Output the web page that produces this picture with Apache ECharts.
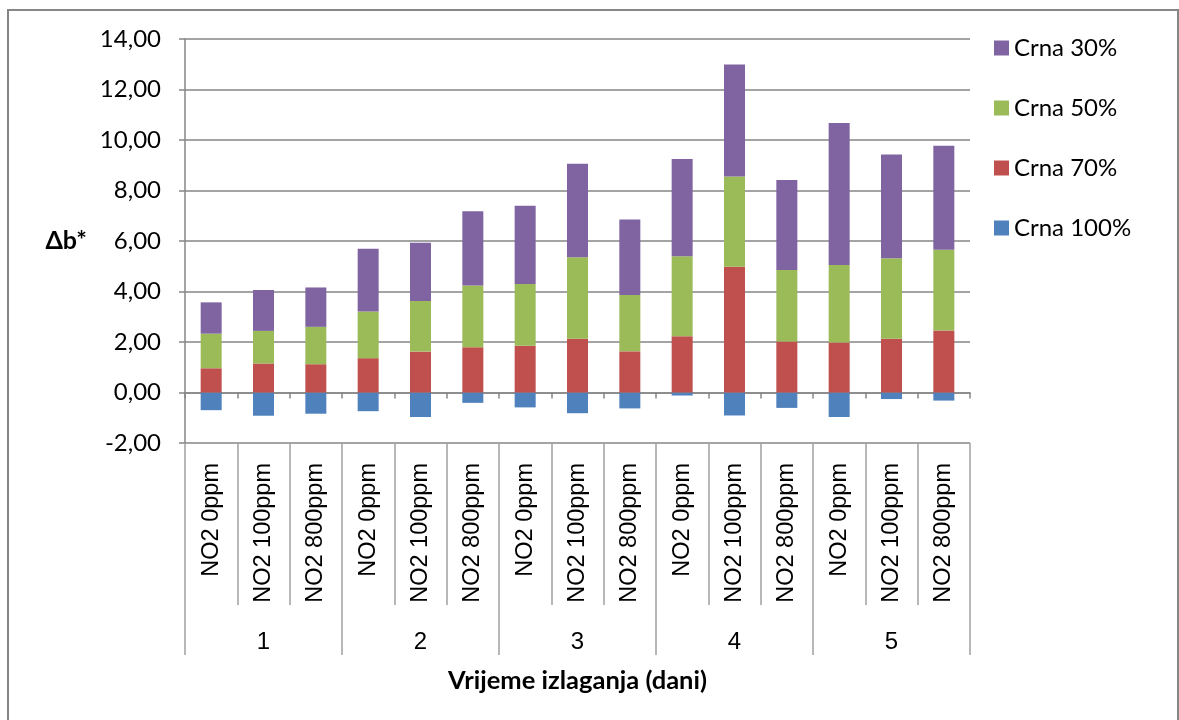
<!DOCTYPE html>
<html>
<head>
<meta charset="utf-8">
<script src="https://cdn.jsdelivr.net/npm/echarts@6/dist/echarts.min.js"></script>
<style>
html,body{margin:0;padding:0;background:#fff;}
#chart{width:1179px;height:720px;}
</style>
</head>
<body>
<div id="chart"></div>
<script>
var categories = ['NO2 0ppm','NO2 100ppm','NO2 800ppm','NO2 0ppm','NO2 100ppm','NO2 800ppm','NO2 0ppm','NO2 100ppm','NO2 800ppm','NO2 0ppm','NO2 100ppm','NO2 800ppm','NO2 0ppm','NO2 100ppm','NO2 800ppm'];
var groups = ['1','2','3','4','5'];
var crna100 = [-0.70,-0.92,-0.84,-0.74,-0.97,-0.41,-0.59,-0.82,-0.63,-0.12,-0.91,-0.61,-0.97,-0.26,-0.32];
var crna70  = [0.96,1.15,1.12,1.36,1.62,1.79,1.85,2.13,1.63,2.23,4.98,2.02,1.98,2.13,2.46];
var crna50  = [1.37,1.29,1.48,1.85,2.00,2.45,2.45,3.23,2.23,3.17,3.57,2.83,3.07,3.19,3.19];
var crna30  = [1.24,1.62,1.56,2.48,2.31,2.94,3.10,3.70,2.99,3.85,4.44,3.57,5.62,4.11,4.12];
var seriesNames = ['Crna 100%','Crna 70%','Crna 50%','Crna 30%'];
var yTicks = {min:-2, max:14, interval:2};

var gray = '#868686';
var chart = echarts.init(document.getElementById('chart'));
function barSeries(name, data, color){
  return {name:name, type:'bar', stack:'s', data:data, barWidth:21,
    itemStyle:{color:color}, xAxisIndex:0, yAxisIndex:0};
}
var option = {
  animation:false,
  backgroundColor:'#fff',
  graphic:[{type:'rect', silent:true, shape:{x:8,y:10,width:1170,height:720},
    style:{fill:'none', stroke:gray, lineWidth:2}}],
  grid:{left:185, right:209, top:39, bottom:277, containLabel:false},
  legend:{orient:'vertical', left:989, top:28, itemWidth:15, itemHeight:15, itemGap:30,
    icon:'rect', data:['Crna 30%','Crna 50%','Crna 70%','Crna 100%'],
    textStyle:{fontFamily:'Lato', fontSize:24, color:'#000', lineHeight:30}},
  xAxis:[
    {type:'category', data:categories, axisLine:{onZero:true, lineStyle:{color:gray,width:1.5}},
      axisTick:{show:true, interval:0, length:6, lineStyle:{color:gray,width:1.5}},
      axisLabel:{show:false}},
    {type:'category', data:categories, position:'bottom', axisLine:{onZero:false, show:false},
      axisTick:{show:true, interval:0, length:162, lineStyle:{color:'#a0a0a0',width:1.5}},
      axisLabel:{interval:0, rotate:90, margin:20, fontFamily:'Liberation Sans', fontSize:23.5, color:'#000'}},
    {type:'category', data:groups, position:'bottom', axisLine:{onZero:false, show:false},
      axisTick:{show:true, interval:0, length:212, lineStyle:{color:'#a0a0a0',width:1.5}},
      axisLabel:{interval:0, margin:187, fontFamily:'Liberation Sans', fontSize:24, color:'#000'},
      name:'Vrijeme izlaganja (dani)', nameLocation:'middle', nameGap:225,
      nameTextStyle:{fontFamily:'Lato', fontWeight:'bold', fontSize:25.5, color:'#000'}}
  ],
  yAxis:{type:'value', min:yTicks.min, max:yTicks.max, interval:yTicks.interval,
    axisLine:{show:true, lineStyle:{color:gray,width:1.5}},
    axisTick:{show:true, length:6, lineStyle:{color:gray,width:1.5}},
    splitLine:{show:true, lineStyle:{color:gray,width:1.5}},
    axisLabel:{margin:24, fontFamily:'Lato', fontSize:24, color:'#000',
      formatter:function(v){return v.toFixed(2).replace('.',',');}},
    name:'Δb*', nameLocation:'middle', nameRotate:0, nameGap:98,
    nameTextStyle:{fontFamily:'Lato', fontWeight:'bold', fontSize:25, color:'#000', align:'right'}},
  series:[
    barSeries(seriesNames[0], crna100, '#4F81BD'),
    barSeries(seriesNames[1], crna70, '#C0504D'),
    barSeries(seriesNames[2], crna50, '#9BBB59'),
    barSeries(seriesNames[3], crna30, '#8064A2')
  ]
};
chart.setOption(option);
</script>
</body>
</html>
